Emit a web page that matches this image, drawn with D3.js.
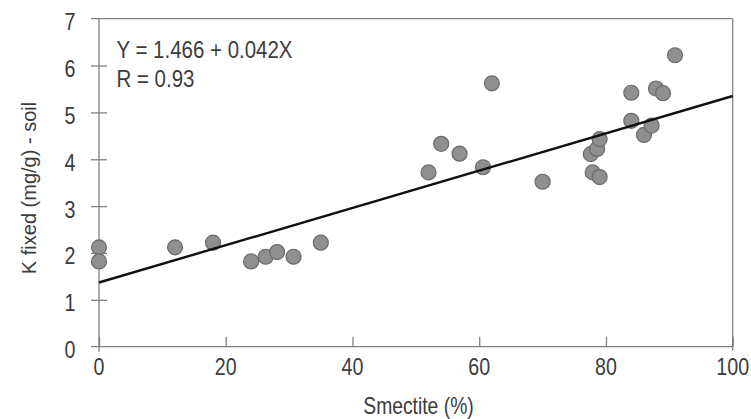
<!DOCTYPE html>
<html>
<head>
<meta charset="utf-8">
<script src="https://cdn.jsdelivr.net/npm/d3@7"></script>
<style>
html,body{margin:0;padding:0;background:#fff;}
svg{display:block;}
text{font-family:"Liberation Sans",Arial,sans-serif;fill:#3c3c3c;}
</style>
</head>
<body>
<svg id="chart" width="751" height="419"></svg>
<script>
// Data
const smectite = [0, 0, 12, 18, 24, 26.3, 28.1, 30.7, 35, 52, 54, 56.9, 60.6, 62, 70, 77.6, 77.9, 78.6, 79, 79, 84, 84, 86, 87.2, 87.9, 89, 90.9];
const kFixed   = [2.12, 1.82, 2.12, 2.22, 1.82, 1.92, 2.02, 1.92, 2.22, 3.72, 4.33, 4.12, 3.83, 5.62, 3.52, 4.11, 3.72, 4.22, 4.43, 3.62, 5.42, 4.82, 4.52, 4.72, 5.51, 5.41, 6.22];
const fitX = [0, 100];
const fitY = [1.37, 5.35];
const xTicks = [0, 20, 40, 60, 80, 100];
const yTicks = [0, 1, 2, 3, 4, 5, 6, 7];
const equationLines = ["Y = 1.466 + 0.042X", "R = 0.93"];
const xTitle = "Smectite (%)";
const yTitle = "K fixed (mg/g) - soil";

const svg = d3.select("#chart");
const x = d3.scaleLinear().domain([0, 100]).range([99, 732.7]);
const y = d3.scaleLinear().domain([0, 7]).range([346.7, 18.7]);
const axisColor = "#808080";
const narrow = 0.82;

// frame: top and right
svg.append("line").attr("x1", 91).attr("x2", x(100)).attr("y1", y(7)).attr("y2", y(7))
  .attr("stroke", axisColor).attr("stroke-width", 1.3);
svg.append("line").attr("x1", x(100)).attr("x2", x(100)).attr("y1", y(7)).attr("y2", y(0) + 4)
  .attr("stroke", axisColor).attr("stroke-width", 1.3);

// x axis
const xAxis = svg.append("g").attr("transform", `translate(0,${y(0)})`)
  .call(d3.axisBottom(x).tickValues(xTicks).tickSize(-10).tickFormat(""));
xAxis.select(".domain").remove();
xAxis.append("line").attr("x1", 91).attr("x2", x(100)).attr("y1", 0).attr("y2", 0)
  .attr("stroke", axisColor).attr("stroke-width", 1.3);
xAxis.selectAll(".tick line").attr("stroke", axisColor).attr("stroke-width", 1.3);
svg.append("g").selectAll("text").data(xTicks).join("text")
  .attr("transform", d => `translate(${x(d)},374.5) scale(${narrow},1)`)
  .attr("text-anchor", "middle").attr("font-size", 24).text(d => d);

// y axis
const yAxis = svg.append("g").attr("transform", `translate(${x(0)},0)`)
  .call(d3.axisLeft(y).tickValues(yTicks).tickSize(0).tickFormat(""));
yAxis.select(".domain").remove();
yAxis.append("line").attr("x1", 0).attr("x2", 0).attr("y1", y(7)).attr("y2", y(0) + 5)
  .attr("stroke", axisColor).attr("stroke-width", 1.3);
yAxis.selectAll(".tick").filter(d => d > 0 && d < 7).append("line")
  .attr("x1", -8).attr("x2", 8).attr("y1", 0).attr("y2", 0)
  .attr("stroke", axisColor).attr("stroke-width", 1.3);
svg.append("g").selectAll("text").data(yTicks).join("text")
  .attr("transform", d => `translate(75.5,${y(d) + 11.5}) scale(${narrow},1)`)
  .attr("text-anchor", "end").attr("font-size", 24).text(d => d);

// points
svg.append("g").selectAll("circle").data(smectite.map((d, i) => [d, kFixed[i]])).join("circle")
  .attr("cx", d => x(d[0])).attr("cy", d => y(d[1])).attr("r", 7.5)
  .attr("fill", "#8f8f8f").attr("stroke", "#6a6a6a").attr("stroke-width", 1.2);

// regression line
svg.append("line")
  .attr("x1", x(fitX[0])).attr("y1", y(fitY[0]))
  .attr("x2", x(fitX[1])).attr("y2", y(fitY[1]))
  .attr("stroke", "#111").attr("stroke-width", 2.4);

// equation
svg.append("g").selectAll("text").data(equationLines).join("text")
  .attr("transform", (d, i) => `translate(116.5,${58.3 + i * 29}) scale(0.89,1)`)
  .attr("font-size", 23).text(d => d);

// titles
svg.append("text").attr("transform", "translate(418.5,414) scale(0.84,1)").attr("text-anchor", "middle")
  .attr("font-size", 23).text(xTitle);
svg.append("text").attr("transform", "translate(36,188) rotate(-90)").attr("text-anchor", "middle")
  .attr("font-size", 20).text(yTitle);
</script>
</body>
</html>
